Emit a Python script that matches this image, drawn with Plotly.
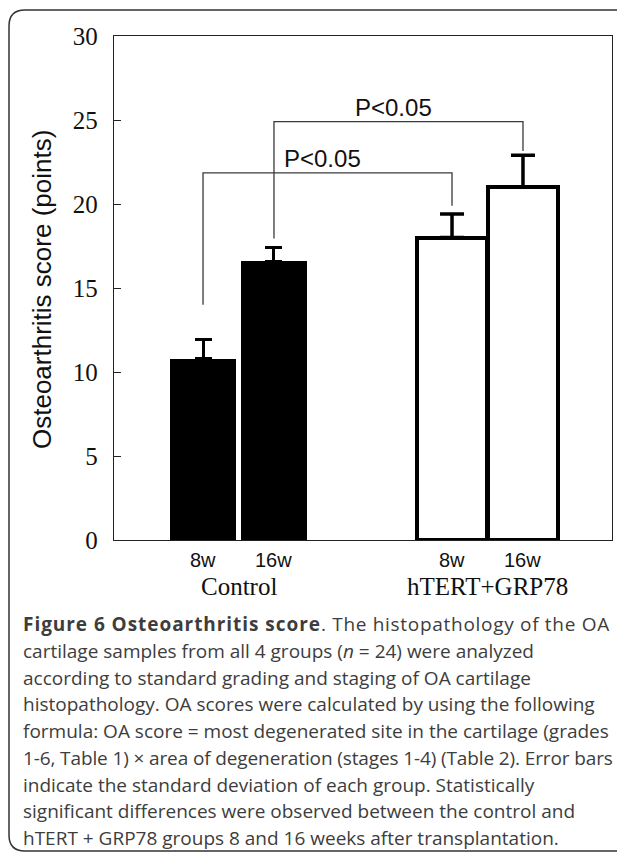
import plotly.graph_objects as go

# ---------------- data ----------------
groups = ["Control", "hTERT+GRP78"]
timepoints = ["8w", "16w"]
control_mean = [10.8, 16.6]
control_sd = [1.15, 0.8]
htert_mean = [18.0, 21.0]
htert_sd = [1.4, 1.9]
yticks = [0, 5, 10, 15, 20, 25, 30]
# significance brackets
brackets = [
    {"left": (0, 0), "right": (1, 0), "top": 21.85, "lb": 14.0, "rb": 19.9, "label": "P<0.05"},
    {"left": (0, 1), "right": (1, 1), "top": 24.9, "lb": 17.95, "rb": 23.15, "label": "P<0.05"},
]
caption_lines = [
    '<span style="letter-spacing:0.95px"><b>Figure 6 Osteoarthritis score</b></span>'
    '<span style="letter-spacing:0.7px">. The histopathology of the OA</span>',
    "cartilage samples from all 4 groups (<i>n</i> = 24) were analyzed",
    "according to standard grading and staging of OA cartilage",
    "histopathology. OA scores were calculated by using the following",
    "formula: OA score = most degenerated site in the cartilage (grades",
    '<span style="letter-spacing:-0.12px">1-6, Table 1) × area of degeneration (stages 1-4) (Table 2). Error bars</span>',
    "indicate the standard deviation of each group. Statistically",
    "significant differences were observed between the control and",
    "hTERT + GRP78 groups 8 and 16 weeks after transplantation.",
]

# ---------------- layout geometry (reference pixel coords) ----------------
OFF = 8  # page body margin
W, H = 625 - OFF, 853 - OFF
L, R, T, B = 114, 612, 36, 540
group_pos = [1, 3]
offset = 0.285


def px_x(px):
    return (px - L) / (R - L)


def px_y(py):
    return (B - py) / (B - T)


def xpos(g, t):
    return group_pos[g] + (-offset if t == 0 else offset)


fig = go.Figure()

fig.add_trace(go.Bar(
    x=[xpos(0, 0), xpos(0, 1)], y=control_mean, width=0.53,
    marker=dict(color="black", line=dict(width=0)),
    error_y=dict(type="data", symmetric=False, array=control_sd, arrayminus=[0, 0],
                 color="black", thickness=3, width=8.5),
    showlegend=False,
))
fig.add_trace(go.Bar(
    x=[xpos(1, 0), xpos(1, 1)], y=htert_mean, width=0.555,
    marker=dict(color="white", line=dict(width=4, color="black")),
    error_y=dict(type="data", symmetric=False, array=htert_sd, arrayminus=[0, 0],
                 color="black", thickness=3.5, width=12),
    showlegend=False,
))

shapes = []
annotations = []
for b in brackets:
    xl = xpos(*b["left"])
    xr = xpos(*b["right"])
    shapes.append(dict(
        type="path", xref="x", yref="y",
        path=f"M {xl},{b['lb']} L {xl},{b['top']} L {xr},{b['top']} L {xr},{b['rb']}",
        line=dict(color="#3a3a3a", width=1.3),
    ))
    annotations.append(dict(
        x=(xl + xr) / 2 - 0.04, y=b["top"], xref="x", yref="y", text=b["label"],
        showarrow=False, yanchor="bottom", xanchor="center", yshift=-1,
        font=dict(family="Liberation Sans, Arial", size=24, color="#111"),
    ))

for g in range(2):
    for t in range(2):
        annotations.append(dict(
            x=xpos(g, t), y=px_y(560), xref="x", yref="paper", text=timepoints[t],
            showarrow=False, xanchor="center", yanchor="middle",
            font=dict(family="Liberation Sans, Arial", size=20, color="#111"),
        ))
    annotations.append(dict(
        x=group_pos[g], y=px_y(586), xref="x", yref="paper", text=groups[g],
        showarrow=False, xanchor="center", yanchor="middle",
        font=dict(family="Liberation Serif, Times New Roman", size=25, color="#111"),
    ))

annotations.append(dict(
    x=px_x(42), y=px_y(290), xref="paper", yref="paper",
    text="Osteoarthritis score (points)", textangle=-90, showarrow=False,
    xanchor="center", yanchor="middle",
    font=dict(family="Liberation Sans, Arial", size=26, color="#111"),
))

for i, line in enumerate(caption_lines):
    annotations.append(dict(
        x=px_x(21), y=px_y(624 + i * 26.75), xref="paper", yref="paper",
        text=line, showarrow=False, xanchor="left", yanchor="middle", align="left",
        font=dict(family="Open Sans", size=19, color="#3d3d3d"),
    ))

x0, y0, x1, y1, r = px_x(9), px_y(10), px_x(640), px_y(851), 16
rx = r / (R - L)
ry = r / (B - T)
shapes.append(dict(
    type="path", xref="paper", yref="paper",
    path=(f"M {x1},{y0} L {x0 + rx},{y0} Q {x0},{y0} {x0},{y0 - ry} "
          f"L {x0},{y1 + ry} Q {x0},{y1} {x0 + rx},{y1} L {x1},{y1}"),
    line=dict(color="#333", width=1.5),
))

fig.update_layout(
    width=W, height=H,
    margin=dict(l=L - OFF, r=625 - R, t=T - OFF, b=853 - B, pad=0),
    paper_bgcolor="white", plot_bgcolor="white",
    shapes=shapes, annotations=annotations,
    bargap=0, barmode="overlay",
)
fig.update_xaxes(range=[0, 4], showticklabels=False, ticks="", showgrid=False, zeroline=False,
                 showline=True, linecolor="#222", linewidth=1.3, mirror=True)
fig.update_yaxes(range=[0, 30], tickvals=yticks, ticktext=[str(v) for v in yticks],
                 ticks="inside", ticklen=7, tickwidth=1.2, tickcolor="#222",
                 showgrid=False, zeroline=False, showline=True, linecolor="#222",
                 linewidth=1.3, mirror=True, ticklabelstandoff=10,
                 tickfont=dict(family="Liberation Serif, Times New Roman", size=25, color="#111"))

fig.write_html("out.html")
